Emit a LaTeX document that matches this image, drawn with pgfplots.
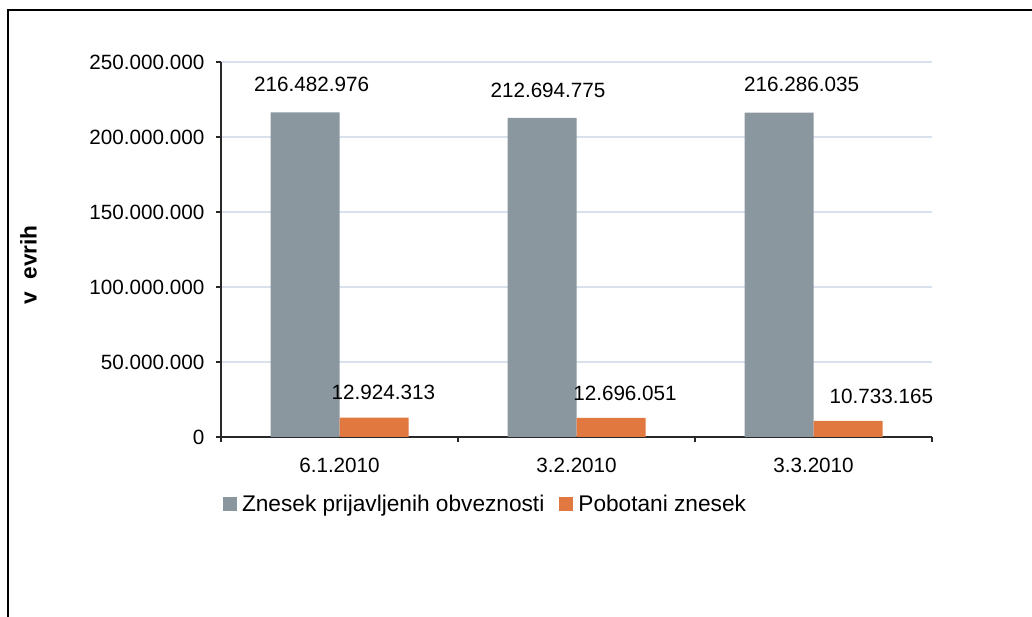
\documentclass[border=0pt]{standalone}
\usepackage{pgfplots}
\pgfplotsset{compat=1.18}
\usepackage{pgfplotstable}
\usepackage{fontspec}
\setmainfont{Liberation Sans}
\definecolor{barGrey}{RGB}{138,151,159}
\definecolor{barOrange}{RGB}{224,120,64}
\definecolor{gridC}{RGB}{217,226,236}
\definecolor{axC}{RGB}{40,40,40}

\pgfplotstableread{
x y dx dy label
0 216482976 5 21 216.482.976
1 212694775 4.5 21 212.694.775
2 216286035 17 21 216.286.035
}\greytab
\pgfplotstableread{
x y dx dy label
0 12924313 7 18.75 12.924.313
1 12696051 10.5 18.75 12.696.051
2 10733165 25 18.75 10.733.165
}\orangetab

\pgfplotsset{sqlegend/.style={legend image code/.code={\fill[##1,draw=none] (0pt,-5pt) rectangle (10.5pt,5.5pt); \path (12.5pt,0pt);}}}

\begin{document}
\begin{tikzpicture}[font=\fontsize{15.5}{18}\selectfont]
\path[use as bounding box] (0,0) rectangle (774pt,462.75pt);
\draw[line width=1.5pt] (6pt,0pt) -- (6pt,455.25pt) -- (774pt,455.25pt);
\begin{axis}[
  at={(165.75pt,135pt)}, anchor=south west,
  width=533.25pt, height=281.25pt, scale only axis,
  xmin=-0.5, xmax=2.5, ymin=0, ymax=250000000,
  ybar=0pt, bar width=51.75pt,
  axis x line*=bottom, axis y line*=left,
  axis line style={axC, line width=0.8pt},
  every tick/.style={axC, line width=0.8pt},
  tick align=outside, major tick length=4pt,
  xtick={-0.5,0.5,1.5,2.5}, xticklabels={},
  extra x ticks={0,1,2},
  extra x tick labels={6.1.2010,3.2.2010,3.3.2010},
  extra x tick style={major tick length=0pt},
  xticklabel style={yshift=-12pt},
  ytick={0,50000000,100000000,150000000,200000000,250000000},
  yticklabels={0,50.000.000,100.000.000,150.000.000,200.000.000,250.000.000},
  scaled y ticks=false,
  ymajorgrids, grid style={gridC, line width=0.8pt},
  yticklabel style={xshift=-5pt},
  ylabel={\fontsize{17}{20}\selectfont\bfseries v\ \ evrih},
  ylabel style={at={(axis description cs:-0.2706,0.459)}, anchor=center},
  legend columns=2,
  legend style={draw=none, fill=none, at={(axis description cs:0.002,-0.179)}, anchor=west,
    inner sep=0pt, font=\fontsize{17}{20}\selectfont,
    /tikz/every even column/.append style={column sep=9pt}},
  point meta=explicit symbolic,
  nodes near coords,
  visualization depends on={\thisrow{dx} \as \dx},
  visualization depends on={\thisrow{dy} \as \dy},
  nodes near coords style={anchor=center, xshift=\dx pt, yshift=\dy pt, black},
]
\addplot[fill=barGrey, draw=none, sqlegend] table[x=x, y=y, meta=label] {\greytab};
\addlegendentry{Znesek prijavljenih obveznosti}
\addplot[fill=barOrange, draw=none, sqlegend] table[x=x, y=y, meta=label] {\orangetab};
\addlegendentry{Pobotani znesek}
\end{axis}
\end{tikzpicture}
\end{document}
